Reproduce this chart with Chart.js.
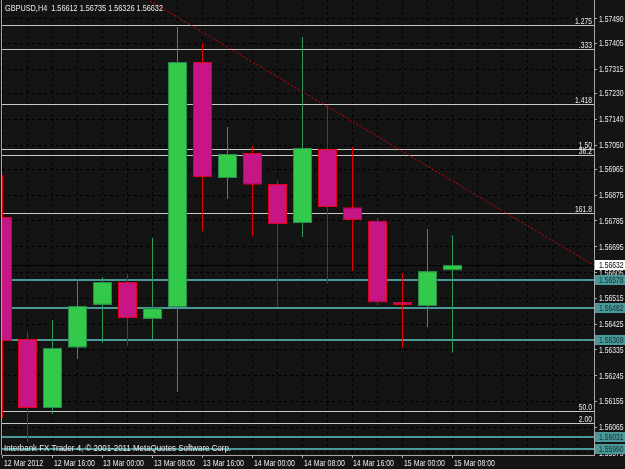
<!DOCTYPE html>
<html><head><meta charset="utf-8">
<script src="https://cdn.jsdelivr.net/npm/chart.js@4/dist/chart.umd.min.js"></script>
<style>html,body{margin:0;padding:0;background:#141414;}canvas{display:block}</style>
</head><body>
<div style="width:625px;height:469px;position:relative"><canvas id="c" width="625" height="469"></canvas></div>
<script>
// ---- data ----
const chartTitle = 'GBPUSD,H4  1.56612 1.56735 1.56326 1.56632';
const footerText = 'Interbank FX Trader 4, \u00a9 2001-2011 MetaQuotes Software Corp.';
const barIndex = [0,1,2,3,4,5,6,7,8,9,10,11,12,13,14,15,16,17,18];
const opens  = [1.56799,1.56373,1.56132,1.56342,1.56492,1.56572,1.56443,1.56485,1.57340,1.56935,1.57022,1.56914,1.56778,1.57036,1.56833,1.56787,1.56502,1.56488,1.56612];
const highs  = [1.56945,1.56401,1.56439,1.56582,1.56589,1.56600,1.56726,1.57462,1.57406,1.57113,1.57047,1.56928,1.57427,1.57186,1.57043,1.56798,1.56603,1.56757,1.56735];
const lows   = [1.56097,1.56012,1.56111,1.56303,1.56359,1.56349,1.56373,1.56188,1.56750,1.56862,1.56732,1.56485,1.56729,1.56565,1.56610,1.56490,1.56342,1.56415,1.56326];
const closes = [1.56366,1.56132,1.56342,1.56488,1.56572,1.56446,1.56481,1.57340,1.56938,1.57019,1.56911,1.56774,1.57040,1.56834,1.56788,1.56500,1.56492,1.56610,1.56632];
const xTickLabels = ['12 Mar 2012','12 Mar 16:00','13 Mar 00:00','13 Mar 08:00','13 Mar 16:00','14 Mar 00:00','14 Mar 08:00','14 Mar 16:00','15 Mar 00:00','15 Mar 08:00'];
const yTickLabels = ['1.57490','1.57405','1.57315','1.57230','1.57140','1.57050','1.56965','1.56875','1.56785','1.56695','1.56605','1.56515','1.56425','1.56335','1.56245','1.56155','1.56065','1.55975'];
const fibLevels = [1.57469,1.57385,1.57193,1.57036,1.57015,1.56813,1.56122,1.56080];
const fibLabels = ['1.275','.333','1.418','1.50','38.2','161.8','50.0','2.00'];
const hLineLevels = [1.56578,1.56482,1.56369,1.56031,1.55990];
const bidPrice = 1.56632;
const trendBars = [5.9, 23.66];
const trendPrices = [1.57553, 1.56630];

// ---- style ----
const BG = '#141414';
const FONT = '"Liberation Sans", Arial, sans-serif';
const FSIZE = 9.5;
const TXT = '#ececec';
const AXIS = '#a8a8a8';
const FIB = '#c8c8c8';
const TEAL = '#4a9898';
const BULL = '#33c94a', BULL_EDGE = '#2a8a50', BULL_WICK = '#2e9a5a';
const BEAR = '#c71585', BEAR_EDGE = '#e0001a', BEAR_WICK = '#e00000';

const isBull = barIndex.map(i => closes[i] >= opens[i]);
const bodies = barIndex.map(i => ({x: i, y: [opens[i], closes[i]]}));
const wicks = barIndex.map(i => ({x: i, y: [lows[i], highs[i]]}));
const trend = trendBars.map((b, i) => ({x: b, y: trendPrices[i]}));
const gridBars = Array.from({length: 24}, (_, i) => i);

// condensed text helper: squeezes text horizontally to a target width for a sample string
function squeeze(ctx, sample, target) { return target / ctx.measureText(sample).width; }
function ctext(ctx, s, x, y, align, sx) {
  ctx.save(); ctx.translate(x, y); ctx.scale(sx, 1); ctx.textAlign = align; ctx.fillText(s, 0, 0); ctx.restore();
}

const levelsPlugin = {
  id: 'levels',
  beforeDraw(chart) {
    const c = chart.ctx; c.save(); c.fillStyle = BG; c.fillRect(0, 0, chart.width, chart.height); c.restore();
  },
  beforeDatasetsDraw(chart) {
    const {ctx, chartArea: a, scales: {y}} = chart;
    ctx.save();
    ctx.beginPath(); ctx.rect(a.left, a.top, a.right - a.left, a.bottom - a.top); ctx.clip();
    const hl = (v, color, w) => {
      const py = Math.round(y.getPixelForValue(v)) + (w % 2 ? 0.5 : 0);
      ctx.strokeStyle = color; ctx.lineWidth = w; ctx.setLineDash([]);
      ctx.beginPath(); ctx.moveTo(a.left, py); ctx.lineTo(a.right, py); ctx.stroke();
    };
    fibLevels.forEach(v => hl(v, FIB, 1));
    hLineLevels.forEach(v => hl(v, TEAL, 2));
    hl(bidPrice, '#000000', 1);
    ctx.restore();
  },
  afterDraw(chart) {
    const {ctx, chartArea: a, scales: {x, y}} = chart;
    ctx.save();
    // left frame line
    ctx.strokeStyle = AXIS; ctx.lineWidth = 1;
    ctx.beginPath(); ctx.moveTo(a.left - 0.5, 0); ctx.lineTo(a.left - 0.5, a.bottom); ctx.stroke();
    ctx.font = FSIZE + 'px ' + FONT;
    const sxNum = squeeze(ctx, '1.57490', 24.5);
    const sxDate = squeeze(ctx, '12 Mar 2012', 39);
    const sxTitle = squeeze(ctx, chartTitle, 158);
    const sxFoot = squeeze(ctx, footerText, 227);
    // y axis labels
    ctx.fillStyle = TXT; ctx.textBaseline = 'middle';
    yTickLabels.forEach(t => ctext(ctx, t, a.right + 5, Math.round(y.getPixelForValue(parseFloat(t))) + 0.5, 'left', sxNum));
    // x axis labels
    xTickLabels.forEach((t, i) => ctext(ctx, t, Math.round(x.getPixelForValue(i * 2)) + 1, a.bottom + 8.5, 'left', sxDate));
    // fib labels
    ctx.textBaseline = 'alphabetic';
    fibLevels.forEach((v, i) => {
      const py = Math.round(y.getPixelForValue(v));
      ctext(ctx, fibLabels[i], a.right - 2, py - 1, 'right', sxNum);
    });
    // title & footer
    ctx.textBaseline = 'middle';
    ctext(ctx, chartTitle, 5, 8, 'left', sxTitle);
    ctext(ctx, footerText, 4, 448, 'left', sxFoot);
    // price boxes
    const box = (v, bg, fg, txt) => {
      const py = Math.round(y.getPixelForValue(v));
      ctx.fillStyle = bg; ctx.fillRect(a.right + 1, py - 5, chart.width - a.right - 1, 10);
      ctx.fillStyle = fg; ctx.textBaseline = 'middle';
      ctext(ctx, txt, a.right + 5, py + 0.5, 'left', sxNum);
    };
    hLineLevels.forEach(v => box(v, TEAL, '#163030', v.toFixed(5)));
    box(bidPrice, '#ffffff', '#000000', bidPrice.toFixed(5));
    ctx.restore();
  }
};

new Chart(document.getElementById('c'), {
  type: 'bar',
  data: {
    datasets: [
      { type: 'line', data: trend, borderColor: '#dd0000', borderWidth: 1, borderDash: [2, 2],
        pointRadius: 0, fill: false, order: -1, tension: 0 },
      { data: bodies, backgroundColor: isBull.map(b => b ? BULL : BEAR), borderColor: isBull.map(b => b ? BULL_EDGE : BEAR_EDGE),
        borderWidth: 1, borderSkipped: false, barThickness: 19, grouped: false, inflateAmount: 0, order: 0 },
      { data: wicks, backgroundColor: isBull.map(b => b ? BULL_WICK : BEAR_WICK), borderWidth: 0,
        barThickness: 1, grouped: false, inflateAmount: 0, order: 1 }
    ]
  },
  options: {
    responsive: false, devicePixelRatio: 1, animation: false,
    layout: { padding: { left: 2, top: 0, right: 0, bottom: 0 }, autoPadding: false },
    plugins: { legend: { display: false }, tooltip: { enabled: false } },
    scales: {
      x: {
        type: 'linear', min: -0.02, max: 23.66, offset: false,
        afterBuildTicks: s => { s.ticks = gridBars.map(v => ({ value: v })); },
        afterFit: s => { s.height = 14; s.paddingLeft = 0; s.paddingRight = 0; },
        ticks: { display: false, autoSkip: false, maxRotation: 0, minRotation: 0 },
        grid: { color: '#000000', lineWidth: 1, offset: false, drawTicks: true, tickLength: 3,
          tickColor: ctx => (ctx.index % 2 === 0 && ctx.index <= 18) ? AXIS : 'rgba(0,0,0,0)' },
        border: { display: true, color: AXIS, width: 1, dash: [3, 3] }
      },
      y: {
        type: 'linear', position: 'right', min: 1.55968, max: 1.575563,
        afterBuildTicks: s => { s.ticks = yTickLabels.map(t => ({ value: parseFloat(t) })); },
        afterFit: s => { s.width = 31; s.paddingTop = 0; s.paddingBottom = 0; },
        ticks: { display: false },
        grid: { color: '#000000', lineWidth: 1, drawTicks: true, tickLength: 3, tickColor: AXIS },
        border: { display: true, color: AXIS, width: 1, dash: [3, 3] }
      }
    }
  },
  plugins: [levelsPlugin]
});
</script>
</body></html>
